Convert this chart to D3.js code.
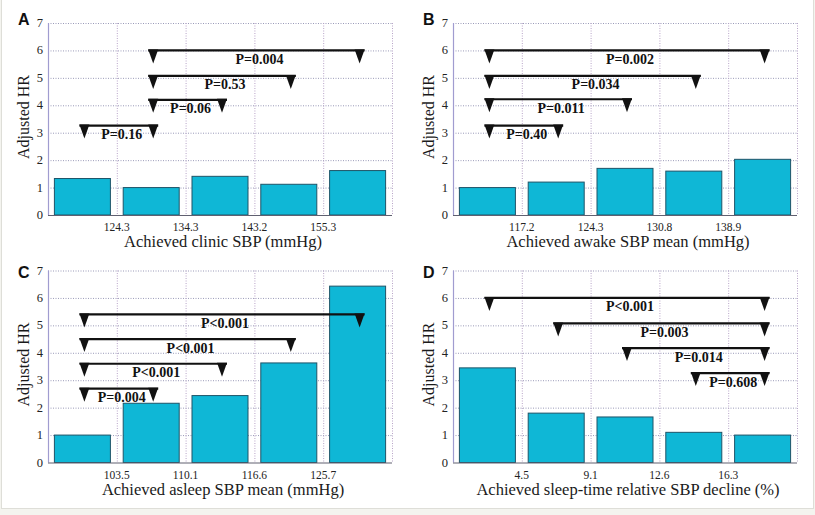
<!DOCTYPE html>
<html>
<head>
<meta charset="utf-8">
<script src="https://cdn.jsdelivr.net/npm/d3@7"></script>
<style>
  body { margin: 0; background: #f4f4ef; }
  svg { display: block; }
</style>
</head>
<body>
<svg id="chart" width="815" height="515"></svg>
<script>
// data ---------------------------------------------------------------
var letters = ["A", "B", "C", "D"];
var xTitles = [
  "Achieved clinic SBP (mmHg)",
  "Achieved awake SBP mean (mmHg)",
  "Achieved asleep SBP mean (mmHg)",
  "Achieved sleep-time relative SBP decline (%)"
];
var cutLabels = [
  ["124.3", "134.3", "143.2", "155.3"],
  ["117.2", "124.3", "130.8", "138.9"],
  ["103.5", "110.1", "116.6", "125.7"],
  ["4.5", "9.1", "12.6", "16.3"]
];
var hrA = [1.33, 1.0, 1.41, 1.12, 1.62];
var hrB = [1.0, 1.2, 1.7, 1.6, 2.03];
var hrC = [1.0, 2.16, 2.44, 3.63, 6.43];
var hrD = [3.45, 1.8, 1.66, 1.1, 1.0];

// brackets: [from group, to group, level (HR), label]
var brA = [[0, 1, 3.26, "P=0.16"], [1, 2, 4.2, "P=0.06"], [1, 3, 5.07, "P=0.53"], [1, 4, 6.0, "P=0.004"]];
var brB = [[0, 1, 3.26, "P=0.40"], [0, 2, 4.22, "P=0.011"], [0, 3, 5.07, "P=0.034"], [0, 4, 6.0, "P=0.002"]];
var brC = [[0, 1, 2.69, "P=0.004"], [0, 2, 3.6, "P<0.001"], [0, 3, 4.5, "P<0.001"], [0, 4, 5.4, "P<0.001"]];
var brD = [[3, 4, 3.26, "P=0.608"], [2, 4, 4.17, "P=0.014"], [1, 4, 5.07, "P=0.003"], [0, 4, 6.0, "P<0.001"]];

var yTicks = [0, 1, 2, 3, 4, 5, 6, 7];

// layout ---------------------------------------------------------------
var svg = d3.select("#chart");
var serif = "'Liberation Serif', 'Times New Roman', serif";

svg.append("rect")
  .attr("x", 1.5).attr("y", -1).attr("width", 812).attr("height", 509.5)
  .attr("fill", "#ffffff").attr("stroke", "#deded8");

var panels = [
  { ox: 0, oy: 0, hr: hrA, br: brA, ly: 25 },
  { ox: 405, oy: 0, hr: hrB, br: brB, ly: 25 },
  { ox: 0, oy: 247.5, hr: hrC, br: brC, ly: 30 },
  { ox: 405, oy: 247.5, hr: hrD, br: brD, ly: 30 }
];

var plot = { left: 48, right: 392, top: 23, bottom: 215 };

panels.forEach(function (p, k) {
  var g = svg.append("g").attr("transform", `translate(${p.ox},${p.oy})`);
  var groups = d3.range(p.hr.length);

  var x = d3.scaleBand()
    .domain(groups)
    .range([plot.left, plot.right])
    .paddingInner(0)
    .paddingOuter(0);
  var y = d3.scaleLinear().domain([0, 7]).range([plot.bottom, plot.top]);

  // grid
  g.append("g").selectAll("line")
    .data(yTicks.slice(1))
    .enter().append("line")
    .attr("x1", plot.left).attr("x2", plot.right)
    .attr("y1", d => y(d) + 0.5).attr("y2", d => y(d) + 0.5)
    .attr("stroke", "#9a9ab8").attr("stroke-width", 1)
    .attr("stroke-dasharray", "1,1.5");

  g.append("g").selectAll("line")
    .data(groups.slice(1).concat([groups.length]))
    .enter().append("line")
    .attr("x1", d => (d < groups.length ? x(d) : plot.right) + 0.5)
    .attr("x2", d => (d < groups.length ? x(d) : plot.right) + 0.5)
    .attr("y1", plot.top).attr("y2", plot.bottom)
    .attr("stroke", "#b8a4c8").attr("stroke-width", 1)
    .attr("stroke-dasharray", "1,1.5");

  // bars
  var bw = 56;
  g.append("g").selectAll("rect")
    .data(p.hr)
    .enter().append("rect")
    .attr("x", (d, i) => x(i) + x.bandwidth() / 2 - bw / 2)
    .attr("y", d => y(d))
    .attr("width", bw)
    .attr("height", d => plot.bottom - y(d))
    .attr("fill", "#0fb7d6")
    .attr("stroke", "#1e5468")
    .attr("stroke-width", 1);

  // axes
  g.append("line")
    .attr("x1", plot.left + 0.5).attr("x2", plot.left + 0.5)
    .attr("y1", plot.top).attr("y2", plot.bottom)
    .attr("stroke", "#a09cd0").attr("stroke-width", 1.2);
  g.append("line")
    .attr("x1", plot.left).attr("x2", plot.right)
    .attr("y1", plot.bottom + 0.5).attr("y2", plot.bottom + 0.5)
    .attr("stroke", "#606070").attr("stroke-width", 1.2);

  g.append("g").selectAll("text")
    .data(yTicks)
    .enter().append("text")
    .attr("x", plot.left - 5)
    .attr("y", d => y(d) + 4)
    .attr("text-anchor", "end")
    .attr("font-family", serif).attr("font-size", 12.5)
    .attr("fill", "#222")
    .text(d => d);

  g.append("g").selectAll("text")
    .data(cutLabels[k])
    .enter().append("text")
    .attr("x", (d, i) => x(i + 1))
    .attr("y", plot.bottom + 16)
    .attr("text-anchor", "middle")
    .attr("font-family", serif).attr("font-size", 11.5)
    .attr("fill", "#222")
    .text(d => d);

  g.append("text")
    .attr("x", (plot.left + plot.right) / 2 + 3)
    .attr("y", plot.bottom + 32)
    .attr("text-anchor", "middle")
    .attr("font-family", serif).attr("font-size", 16.5)
    .attr("fill", "#1a1a1a")
    .text(xTitles[k]);

  g.append("text")
    .attr("transform", `translate(29,${(plot.top + plot.bottom) / 2 - 2}) rotate(-90)`)
    .attr("text-anchor", "middle")
    .attr("font-family", serif).attr("font-size", 16)
    .attr("fill", "#1a1a1a")
    .text("Adjusted HR");

  g.append("text")
    .attr("x", 18).attr("y", p.ly)
    .attr("font-family", "'Liberation Sans', Arial, sans-serif")
    .attr("font-weight", "bold").attr("font-size", 16)
    .attr("fill", "#111")
    .text(letters[k]);

  // significance brackets
  var cx = i => x(i) + x.bandwidth() / 2 + 2;
  var bg = g.append("g").selectAll("g")
    .data(p.br)
    .enter().append("g");

  bg.append("line")
    .attr("x1", d => cx(d[0]) - 5)
    .attr("x2", d => cx(d[1]) + 5)
    .attr("y1", d => y(d[2]))
    .attr("y2", d => y(d[2]))
    .attr("stroke", "#111").attr("stroke-width", 2.2);

  bg.selectAll("path")
    .data(d => [[d[0], d[2]], [d[1], d[2]]])
    .enter().append("path")
    .attr("d", d => {
      var px = cx(d[0]), py = y(d[1]) - 1;
      return `M${px - 5},${py}L${px + 5},${py}L${px},${py + 14}Z`;
    })
    .attr("fill", "#111");

  bg.append("text")
    .attr("x", d => (cx(d[0]) + cx(d[1])) / 2 + 3)
    .attr("y", d => y(d[2]) + 13.5)
    .attr("text-anchor", "middle")
    .attr("font-family", serif).attr("font-weight", "bold").attr("font-size", 14)
    .attr("fill", "#111")
    .text(d => d[3]);
});
</script>
</body>
</html>
